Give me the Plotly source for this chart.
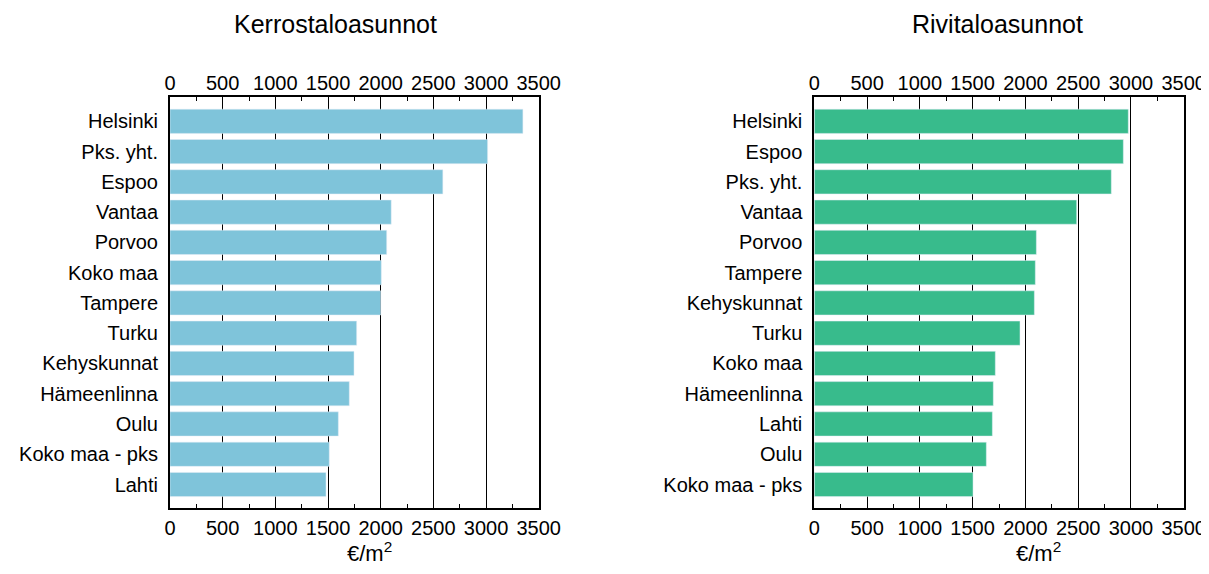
import plotly.graph_objects as go

# Data (EUR per square metre)
kerros_names = ["Helsinki", "Pks. yht.", "Espoo", "Vantaa", "Porvoo", "Koko maa",
                "Tampere", "Turku", "Kehyskunnat", "Hämeenlinna", "Oulu",
                "Koko maa - pks", "Lahti"]
kerros_values = [3350, 3015, 2590, 2100, 2057, 2006, 2000, 1772, 1747, 1702, 1598, 1512, 1481]

rivi_names = ["Helsinki", "Espoo", "Pks. yht.", "Vantaa", "Porvoo", "Tampere",
              "Kehyskunnat", "Turku", "Koko maa", "Hämeenlinna", "Lahti", "Oulu",
              "Koko maa - pks"]
rivi_values = [2975, 2928, 2814, 2486, 2104, 2094, 2085, 1949, 1715, 1696, 1687, 1630, 1504]

titles = ["Kerrostaloasunnot", "Rivitaloasunnot"]
unit_label = "€/m<sup>2</sup>"
x_range = [0, 3500]

# page has an 8px body margin; the figure is sized/positioned to compensate
OFF = 8
W, H = 1201, 557
FONT = "Liberation Sans, Arial, Helvetica, sans-serif"
TICK_SIZE = 20

fig = go.Figure()

fig.add_trace(go.Bar(x=kerros_values, y=kerros_names, orientation="h", width=0.8,
                     marker=dict(color="#7fc4da", line=dict(width=0)),
                     xaxis="x", yaxis="y", showlegend=False))
fig.add_trace(go.Bar(x=rivi_values, y=rivi_names, orientation="h", width=0.8,
                     marker=dict(color="#38bb8c", line=dict(width=0)),
                     xaxis="x2", yaxis="y2", showlegend=False))
# transparent copies so the top (label-only) axes are rendered
fig.add_trace(go.Bar(x=kerros_values, y=kerros_names, orientation="h", width=0.8,
                     marker=dict(color="rgba(0,0,0,0)"), hoverinfo="skip",
                     xaxis="x3", yaxis="y", showlegend=False))
fig.add_trace(go.Bar(x=rivi_values, y=rivi_names, orientation="h", width=0.8,
                     marker=dict(color="rgba(0,0,0,0)"), hoverinfo="skip",
                     xaxis="x4", yaxis="y2", showlegend=False))


def px_x(p):
    return (p - OFF) / W


def px_y(p):
    return 1 - (p - OFF) / H


left_dom = [px_x(170), px_x(538.7)]
right_dom = [px_x(814.3), px_x(1183.7)]
y_dom = [px_y(508), px_y(97.3)]
y_rng = [12.776, -0.793]

bottom_axis = dict(range=x_range, tick0=0, dtick=500, showgrid=True, gridcolor="black",
                   gridwidth=1.3, showline=True, linecolor="black", linewidth=2,
                   mirror="allticks", ticks="inside", ticklen=4, tickcolor="black",
                   tickwidth=1,
                   minor=dict(dtick=250, ticks="inside", ticklen=4, tickcolor="black",
                              tickwidth=1, showgrid=False),
                   zeroline=False, tickfont=dict(size=TICK_SIZE, color="black"),
                   automargin=False, fixedrange=True, ticklabelstandoff=1)
top_axis = dict(range=x_range, tick0=0, dtick=500, showgrid=False, showline=False,
                ticks="", zeroline=False, side="top",
                tickfont=dict(size=TICK_SIZE, color="black"),
                automargin=False, fixedrange=True, ticklabelstandoff=2)
y_axis = dict(type="category", range=y_rng, showgrid=False, showline=True,
              linecolor="black", linewidth=2, mirror=True, ticks="",
              zeroline=False, tickfont=dict(size=TICK_SIZE, color="black"),
              automargin=False, fixedrange=True, ticklabelstandoff=6)

fig.update_layout(
    width=W, height=H,
    margin=dict(l=0, r=0, t=0, b=0),
    paper_bgcolor="white", plot_bgcolor="white",
    font=dict(family=FONT, color="black"),
    bargap=0.2,
    xaxis=dict(domain=left_dom, anchor="y", side="bottom", **bottom_axis),
    xaxis2=dict(domain=right_dom, anchor="y2", side="bottom", **bottom_axis),
    xaxis3=dict(domain=left_dom, anchor="y", overlaying="x", **top_axis),
    xaxis4=dict(domain=right_dom, anchor="y2", overlaying="x2", **top_axis),
    yaxis=dict(domain=y_dom, anchor="x", categoryorder="array",
               categoryarray=kerros_names, **y_axis),
    yaxis2=dict(domain=y_dom, anchor="x2", categoryorder="array",
                categoryarray=rivi_names, **y_axis),
)

annotations = [
    dict(text=titles[0], x=px_x(335.5), y=px_y(24), xref="paper", yref="paper",
         xanchor="center", yanchor="middle", showarrow=False,
         font=dict(size=25, color="black", family=FONT)),
    dict(text=titles[1], x=px_x(997.2), y=px_y(24), xref="paper", yref="paper",
         xanchor="center", yanchor="middle", showarrow=False,
         font=dict(size=25, color="black", family=FONT)),
    dict(text=unit_label, x=px_x(369), y=px_y(551.5), xref="paper", yref="paper",
         xanchor="center", yanchor="middle", showarrow=False,
         font=dict(size=22, color="black", family=FONT)),
    dict(text=unit_label, x=px_x(1038.5), y=px_y(551.5), xref="paper", yref="paper",
         xanchor="center", yanchor="middle", showarrow=False,
         font=dict(size=22, color="black", family=FONT)),
]
fig.update_layout(annotations=annotations)

fig.write_html("out.html")
